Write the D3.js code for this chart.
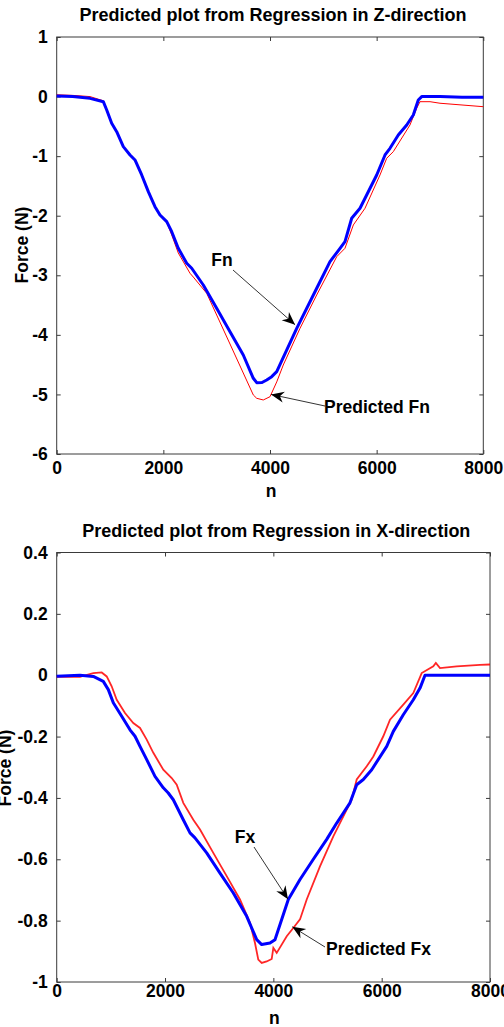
<!DOCTYPE html>
<html><head><meta charset="utf-8">
<script src="https://cdn.jsdelivr.net/npm/d3@7"></script>
<style>
html,body{margin:0;padding:0;background:#fff;}
svg{display:block;}
text{font-family:"Liberation Sans",Arial,sans-serif;font-weight:bold;fill:#000;}
</style></head>
<body><svg id="c" width="504" height="1027"></svg>
<script>
// ---------- data ----------
const xTicks = [0, 2000, 4000, 6000, 8000];
const zTicks = [1, 0, -1, -2, -3, -4, -5, -6];
const xDirTicks = [0.4, 0.2, 0, -0.2, -0.4, -0.6, -0.8, -1];

// Z-direction: measured Fn (blue)
const fnN = [0, 300, 624, 874, 938, 1031, 1125, 1249, 1375, 1468, 1594, 1718, 1843, 1937, 2063, 2157, 2280, 2438, 2532, 2749, 3000, 3250, 3499, 3687, 3751, 3850, 3938, 4032, 4126, 4501, 4876, 5125, 5313, 5406, 5532, 5688, 5813, 6001, 6157, 6250, 6406, 6564, 6687, 6781, 6845, 7188, 7600, 8000];
const fnV = [0.01, 0.0, -0.03, -0.086, -0.225, -0.448, -0.589, -0.841, -0.98, -1.064, -1.316, -1.596, -1.848, -1.988, -2.10, -2.268, -2.547, -2.798, -2.882, -3.163, -3.554, -3.947, -4.338, -4.729, -4.803, -4.80, -4.757, -4.702, -4.618, -3.89, -3.218, -2.772, -2.547, -2.436, -2.043, -1.875, -1.652, -1.316, -0.98, -0.868, -0.645, -0.477, -0.309, -0.057, 0.0, 0.0, -0.01, -0.01];
// Z-direction: predicted Fn (red)
const predFnN = [0, 300, 624, 874, 938, 1031, 1125, 1249, 1375, 1468, 1594, 1718, 1843, 1937, 2063, 2157, 2280, 2500, 2562, 2813, 3250, 3687, 3751, 3874, 4000, 4126, 4249, 4563, 4876, 5251, 5406, 5563, 5782, 6063, 6188, 6312, 6625, 6751, 6813, 7001, 7188, 8000];
const predFnV = [0.03, 0.02, 0.0, -0.07, -0.21, -0.44, -0.58, -0.83, -0.97, -1.06, -1.31, -1.59, -1.85, -1.99, -2.11, -2.323, -2.625, -2.966, -3.03, -3.302, -4.154, -5.009, -5.065, -5.093, -5.038, -4.79, -4.506, -3.89, -3.33, -2.688, -2.547, -2.155, -1.875, -1.316, -1.036, -0.925, -0.477, -0.196, -0.086, -0.086, -0.112, -0.17];

// X-direction: measured Fx (blue)
const fxN = [0, 430, 676, 860, 953, 1045, 1200, 1353, 1446, 1538, 1662, 1815, 1968, 2060, 2153, 2337, 2461, 2553, 2769, 3015, 3261, 3508, 3693, 3785, 3938, 4030, 4276, 4492, 4738, 4985, 5170, 5292, 5415, 5539, 5661, 5816, 6093, 6215, 6399, 6584, 6708, 6800, 7815, 8000];
const fxV = [-0.003, 0.0, -0.004, -0.02, -0.047, -0.09, -0.134, -0.178, -0.199, -0.232, -0.275, -0.33, -0.367, -0.384, -0.406, -0.471, -0.514, -0.53, -0.579, -0.645, -0.71, -0.786, -0.862, -0.878, -0.873, -0.862, -0.731, -0.666, -0.60, -0.535, -0.482, -0.449, -0.416, -0.357, -0.34, -0.308, -0.232, -0.183, -0.129, -0.08, -0.042, 0.0, 0.0, 0.0];
// X-direction: predicted Fx (red)
const predFxN = [0, 430, 676, 831, 923, 1015, 1108, 1261, 1414, 1538, 1662, 1784, 1968, 2123, 2216, 2337, 2522, 2646, 2891, 3139, 3384, 3569, 3661, 3722, 3785, 3877, 3970, 4000, 4062, 4247, 4368, 4492, 4616, 4861, 5107, 5292, 5446, 5539, 5724, 5846, 6030, 6154, 6399, 6584, 6739, 6953, 7000, 7077, 7385, 7815, 8000];
const predFxV = [-0.005, -0.005, 0.007, 0.009, -0.004, -0.036, -0.08, -0.123, -0.156, -0.172, -0.21, -0.253, -0.308, -0.335, -0.357, -0.416, -0.471, -0.503, -0.579, -0.655, -0.731, -0.807, -0.873, -0.927, -0.938, -0.933, -0.925, -0.889, -0.905, -0.851, -0.824, -0.796, -0.731, -0.623, -0.525, -0.46, -0.406, -0.34, -0.297, -0.265, -0.199, -0.145, -0.096, -0.058, 0.007, 0.029, 0.04, 0.023, 0.029, 0.034, 0.035];

// ---------- drawing ----------
const FS = "17.5px";
const svg = d3.select("#c");
const defs = svg.append("defs");
defs.append("marker").attr("id", "ah")
  .attr("viewBox", "-14 -7 16 14").attr("refX", 0).attr("refY", 0)
  .attr("markerWidth", 16).attr("markerHeight", 14).attr("markerUnits", "userSpaceOnUse")
  .attr("orient", "auto")
  .append("path").attr("d", "M0,0 L-13,-5.5 L-9,0 L-13,5.5 Z").attr("fill", "#000");

function panel(cfg) {
  const g = svg.append("g");
  const x = d3.scaleLinear().domain([0, 8000]).range([cfg.left, cfg.right]);
  const y = d3.scaleLinear().domain(cfg.yDomain).range([cfg.bottom, cfg.top]);

  // box
  g.append("rect").attr("x", cfg.left).attr("y", cfg.top)
    .attr("width", cfg.right - cfg.left).attr("height", cfg.bottom - cfg.top)
    .attr("fill", "none").attr("stroke", "#3a3a3a").attr("stroke-width", 1);

  // axes with inward ticks
  const ax = g.append("g").attr("transform", `translate(0,${cfg.bottom})`)
    .call(d3.axisBottom(x).tickValues(xTicks).tickSizeInner(-4).tickSizeOuter(0).tickPadding(cfg.xPad).tickFormat(d => String(d)));
  const axT = g.append("g").attr("transform", `translate(0,${cfg.top})`)
    .call(d3.axisTop(x).tickValues(xTicks).tickSizeInner(-4).tickSizeOuter(0).tickFormat(""));
  const ay = g.append("g").attr("transform", `translate(${cfg.left},0)`)
    .call(d3.axisLeft(y).tickValues(cfg.yTicks).tickSizeInner(-4).tickSizeOuter(0).tickPadding(9).tickFormat(d => String(d)));
  const ayR = g.append("g").attr("transform", `translate(${cfg.right},0)`)
    .call(d3.axisRight(y).tickValues(cfg.yTicks).tickSizeInner(-4).tickSizeOuter(0).tickFormat(""));
  [ax, axT, ay, ayR].forEach(a => {
    a.select(".domain").remove();
    a.selectAll("line").attr("stroke", "#3a3a3a");
    a.selectAll("text").style("font-size", FS).style("font-weight", "bold")
      .style("font-family", '"Liberation Sans",Arial,sans-serif').attr("fill", "#000");
  });

  // lines
  const mk = (N, V) => N.map((n, i) => [n, V[i]]);
  const line = d3.line().x(d => x(d[0])).y(d => y(d[1]));
  g.append("path").attr("d", line(mk(cfg.predN, cfg.predV)))
    .attr("fill", "none").attr("stroke", "#ff0000").attr("stroke-width", cfg.redW).attr("stroke-opacity", cfg.redOp);
  g.append("path").attr("d", line(mk(cfg.measN, cfg.measV)))
    .attr("fill", "none").attr("stroke", "#0000ff").attr("stroke-width", 3).attr("stroke-linejoin", "round");

  // title & labels
  svg.append("text").attr("x", (cfg.left + cfg.right) / 2 + 3).attr("y", cfg.titleY)
    .attr("text-anchor", "middle").style("font-size", "18px").text(cfg.title);
  svg.append("text").attr("x", (cfg.left + cfg.right) / 2 + 1).attr("y", cfg.nY)
    .attr("text-anchor", "middle").style("font-size", FS).text("n");
  svg.append("text").attr("transform", `translate(${cfg.ylabX},${cfg.ylabY}) rotate(-90)`)
    .attr("text-anchor", "middle").style("font-size", FS).text("Force (N)");

  // annotations
  cfg.notes.forEach(a => {
    svg.append("line").attr("x1", a.x1).attr("y1", a.y1).attr("x2", x(a.n)).attr("y2", y(a.v))
      .attr("stroke", "#000").attr("stroke-width", 0.8).attr("marker-end", "url(#ah)");
    svg.append("text").attr("x", a.tx).attr("y", a.ty).attr("text-anchor", a.anchor)
      .style("font-size", FS).text(a.label);
  });
}

panel({
  left: 56.7, right: 483.3, top: 37, bottom: 454, yDomain: [-6, 1], yTicks: zTicks,
  xPad: 8,
  measN: fnN, measV: fnV, predN: predFnN, predV: predFnV, redW: 1, redOp: 1,
  title: "Predicted plot from Regression in Z-direction", titleY: 21,
  nY: 497, ylabX: 28, ylabY: 245,
  notes: [
    { label: "Fn", tx: 222, ty: 266, anchor: "middle", x1: 233, y1: 270, n: 4470, v: -3.83 },
    { label: "Predicted Fn", tx: 324, ty: 413, anchor: "start", x1: 325, y1: 406, n: 4020, v: -5.0 }
  ]
});

panel({
  left: 56.7, right: 490, top: 552.5, bottom: 982, yDomain: [-1, 0.4], yTicks: xDirTicks,
  xPad: 3,
  measN: fxN, measV: fxV, predN: predFxN, predV: predFxV, redW: 1.8, redOp: 0.85,
  title: "Predicted plot from Regression in X-direction", titleY: 537,
  nY: 1024, ylabX: 11, ylabY: 768,
  notes: [
    { label: "Fx", tx: 245, ty: 843, anchor: "middle", x1: 254, y1: 847, n: 4270, v: -0.73 },
    { label: "Predicted Fx", tx: 326, ty: 955, anchor: "start", x1: 325, y1: 947, n: 4350, v: -0.82 }
  ]
});
</script></body></html>
